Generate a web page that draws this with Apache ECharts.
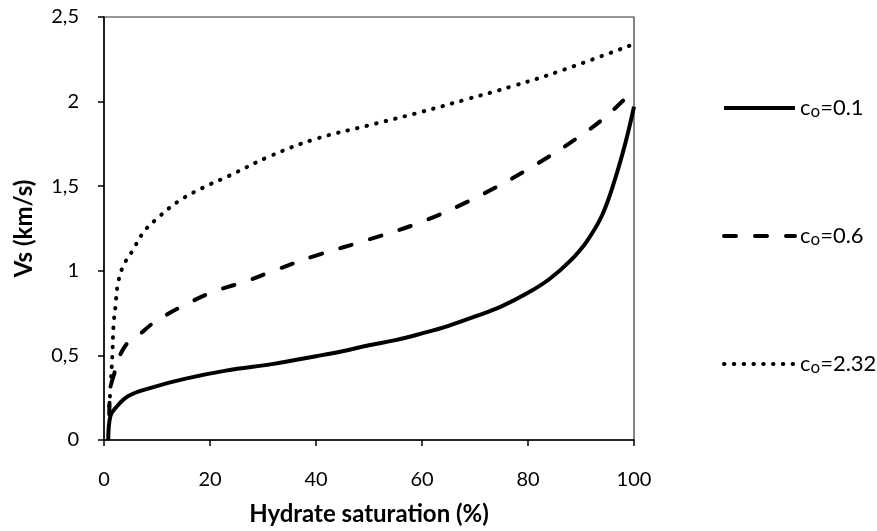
<!DOCTYPE html>
<html>
<head>
<meta charset="utf-8">
<script src="https://cdn.jsdelivr.net/npm/echarts@6/dist/echarts.min.js"></script>
<style>
  html, body { margin: 0; padding: 0; background: #fff; }
  #main { width: 877px; height: 531px; }
</style>
</head>
<body>
<div id="main"></div>
<script>
// values
var seriesNames = ['c0=0.1', 'c0=0.6', 'c0=2.32'];

var sat1 = [0.8, 1.2, 2.2, 4.6, 9, 15, 23, 32, 40, 45, 50, 55, 60, 65, 70, 75, 80, 84, 88, 91, 94, 96.5, 98.5, 100];
var vs1  = [0, 0.14, 0.19, 0.26, 0.31, 0.36, 0.41, 0.45, 0.495, 0.525, 0.56, 0.59, 0.63, 0.675, 0.73, 0.79, 0.87, 0.95, 1.06, 1.17, 1.33, 1.55, 1.77, 1.97];

var sat2 = [1, 1.2, 2.2, 2.7, 4.6, 6.5, 9.7, 16, 21, 27, 32, 40, 50, 60, 70, 80, 90, 95, 100];
var vs2  = [0.15, 0.3, 0.42, 0.48, 0.58, 0.62, 0.7, 0.81, 0.88, 0.94, 1.0, 1.09, 1.185, 1.29, 1.43, 1.6, 1.8, 1.92, 2.07];

var sat3 = [1, 1.3, 1.6, 1.8, 2.2, 2.5, 3.5, 5.4, 7.5, 9.7, 14, 18.6, 23.5, 31.5, 40, 50, 60, 68, 77, 86, 100];
var vs3  = [0.2, 0.35, 0.52, 0.68, 0.8, 0.9, 1.02, 1.12, 1.23, 1.3, 1.41, 1.49, 1.56, 1.68, 1.78, 1.86, 1.94, 2.01, 2.09, 2.18, 2.34];

function pairs(xs, ys) {
    var out = [];
    for (var i = 0; i < xs.length; i++) out.push([xs[i], ys[i]]);
    return out;
}

var font = 'Lato, "Open Sans", sans-serif';
var myChart = echarts.init(document.getElementById('main'));

function lineSeries(name, data, style) {
    return {
        name: name,
        type: 'line',
        data: data,
        symbol: 'none',
        smooth: 0.4,
        lineStyle: style,
        itemStyle: { color: '#000' },
        animation: false
    };
}

var option = {
    backgroundColor: '#fff',
    grid: {
        left: 104, right: 243, top: 17, bottom: 90,
        show: true, borderColor: '#333', borderWidth: 1.2
    },
    legend: {
        orient: 'vertical',
        left: 717,
        top: 90,
        itemWidth: 71,
        itemHeight: 24,
        itemGap: 103,
        data: seriesNames,
        itemStyle: { opacity: 0 },
        lineStyle: { width: 4 },
        formatter: function (n) {
            return '{c|c}{s|o}{c|' + n.slice(2) + '}';
        },
        textStyle: {
            rich: {
                c: { fontFamily: font, fontSize: 22, color: '#000', lineHeight: 24 },
                s: { fontFamily: font, fontSize: 17, color: '#000', verticalAlign: 'bottom', padding: [8, 0, 0, 0], lineHeight: 24 }
            }
        }
    },
    xAxis: {
        type: 'value',
        min: 0, max: 100, interval: 20,
        name: 'Hydrate saturation (%)',
        nameLocation: 'middle',
        nameGap: 62,
        nameTextStyle: { fontFamily: font, fontSize: 24, fontWeight: 'bold', color: '#000' },
        axisLine: { lineStyle: { color: '#000', width: 1.5 } },
        axisTick: { show: true, inside: false, length: 6, lineStyle: { color: '#000', width: 1.5 } },
        axisLabel: { margin: 30, fontFamily: font, fontSize: 20, color: '#000' },
        splitLine: { show: false }
    },
    yAxis: {
        type: 'value',
        min: 0, max: 2.5, interval: 0.5,
        name: 'Vs (km/s)',
        nameLocation: 'middle',
        nameGap: 68,
        nameTextStyle: { fontFamily: font, fontSize: 24, fontWeight: 'bold', color: '#000' },
        axisLine: { show: true, lineStyle: { color: '#000', width: 1.5 } },
        axisTick: { show: true, inside: false, length: 6, lineStyle: { color: '#000', width: 1.5 } },
        axisLabel: {
            margin: 25, fontFamily: font, fontSize: 20, color: '#000',
            formatter: function (v) { return String(v).replace('.', ','); }
        },
        splitLine: { show: false }
    },
    series: [
        lineSeries(seriesNames[0], pairs(sat1, vs1), { color: '#000', width: 4 }),
        lineSeries(seriesNames[1], pairs(sat2, vs2), { color: '#000', width: 4, type: [12, 19], cap: 'round' }),
        lineSeries(seriesNames[2], pairs(sat3, vs3), { color: '#000', width: 4, type: [0.5, 9.3], cap: 'round' })
    ]
};

myChart.setOption(option);
</script>
</body>
</html>
